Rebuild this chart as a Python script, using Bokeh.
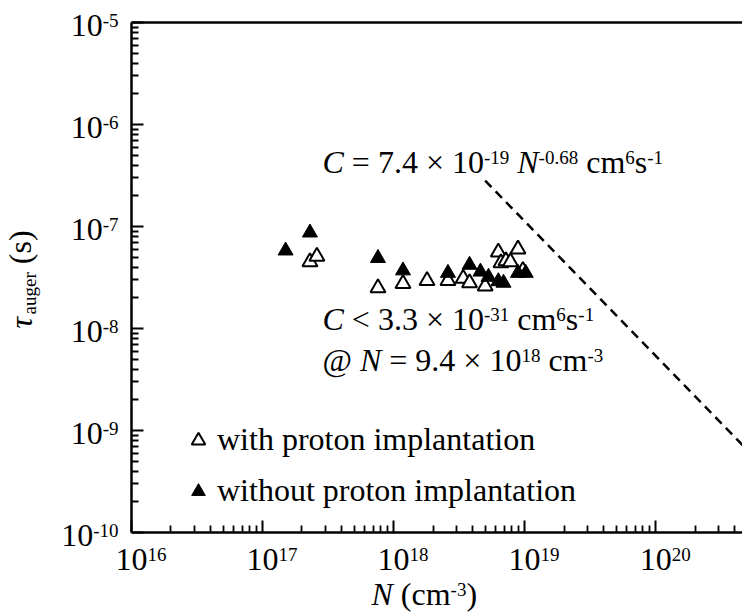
import math
from bokeh.plotting import figure
from bokeh.models import Range1d, LogAxis, FixedTicker, LabelSet, ColumnDataSource
from bokeh.core.properties import value
from bokeh.embed import file_html
from bokeh.resources import INLINE

# ---------------- data ----------------
n_with = [2.3e17, 2.6e17, 7.6e17, 1.18e18, 1.8e18, 2.6e18, 3.4e18, 3.8e18,
          5.0e18, 6.3e18, 6.6e18, 7.2e18, 7.8e18, 8.9e18, 9.7e18]
tau_with = [4.5e-8, 5.1e-8, 2.5e-8, 2.75e-8, 2.95e-8, 2.95e-8, 3.1e-8, 2.8e-8,
            2.6e-8, 5.6e-8, 4.4e-8, 4.6e-8, 4.5e-8, 6.0e-8, 3.7e-8]

n_without = [1.5e17, 2.3e17, 7.6e17, 1.18e18, 2.6e18, 3.8e18, 4.6e18, 5.3e18,
             6.3e18, 6.9e18, 8.9e18, 1.02e19]
tau_without = [5.8e-8, 8.7e-8, 4.9e-8, 3.7e-8, 3.5e-8, 4.2e-8, 3.6e-8, 3.2e-8,
               2.9e-8, 2.8e-8, 3.5e-8, 3.5e-8]

# dashed model line C = 7.4e-19 N^-0.68 (end points)
fit_n = [5.0e18, 4.6e20]
fit_tau = [2.81e-7, 7.2e-10]

x_ticks = [1e16, 1e17, 1e18, 1e19, 1e20]
x_tick_sup = ["16", "17", "18", "19", "20"]
y_ticks = [1e-10, 1e-9, 1e-8, 1e-7, 1e-6, 1e-5]
y_tick_sup = ["-10", "-9", "-8", "-7", "-6", "-5"]

x_start, x_end = 1e16, 4.6e20
y_start, y_end = 1e-10, 1e-5

FONT = "Liberation Serif"
BASE = 32
SUP = 19
RAISE = 9

# ---------------- layout ----------------
W_, H_ = 742, 615
PAD_L, PAD_T, PAD_B = 131, 22, 83   # room for labels around the axes (px)

lx0, lx1 = math.log10(x_start), math.log10(x_end)
ly0, ly1 = math.log10(y_start), math.log10(y_end)
dx = (lx1 - lx0) / (W_ - PAD_L)
dy = (ly1 - ly0) / (H_ - PAD_T - PAD_B)
xr = Range1d(10 ** (lx0 - PAD_L * dx), x_end)
yr = Range1d(10 ** (ly0 - PAD_B * dy), 10 ** (ly1 + PAD_T * dy))

p = figure(width=W_, height=H_, x_axis_type="log", y_axis_type="log",
           x_range=xr, y_range=yr, x_axis_location=None, y_axis_location=None,
           output_backend="svg", toolbar_location=None,
           min_border_left=0, min_border_top=0, min_border_bottom=0, min_border_right=0)
p.outline_line_color = None
p.grid.visible = False
p.background_fill_color = "white"
p.border_fill_color = "white"

def minors(ticks):
    out = []
    for t in ticks:
        for k in range(2, 10):
            out.append(t * k)
    return out

x_minor = minors([1e16, 1e17, 1e18, 1e19, 1e20])
y_minor = minors([1e-10, 1e-9, 1e-8, 1e-7, 1e-6])

def make_axis(maj, mnr, loc, bounds, tick_in=12, minor_in=7):
    ax = LogAxis(fixed_location=loc, bounds=bounds)
    ax.ticker = FixedTicker(ticks=maj, minor_ticks=mnr)
    ax.axis_line_width = 2.5
    ax.axis_line_color = "black"
    ax.major_tick_in = tick_in
    ax.major_tick_out = 0
    ax.minor_tick_in = minor_in
    ax.minor_tick_out = 0
    ax.major_tick_line_width = 2
    ax.minor_tick_line_width = 1.8
    ax.major_label_text_font_size = "2px"
    ax.major_label_text_alpha = 0
    ax.major_label_standoff = 0
    return ax

p.add_layout(make_axis(x_ticks, x_minor, y_start, (x_start, x_end)), "below")
p.add_layout(make_axis(y_ticks, y_minor, x_start, (y_start, y_end)), "left")
p.add_layout(make_axis(x_ticks, x_minor, y_end, (x_start, x_end), 0, 0), "above")

# ---------------- glyphs ----------------
p.line(fit_n, fit_tau, line_color="black", line_width=2.5, line_dash="9 6")
p.scatter(n_with, tau_with, marker="triangle", size=15, fill_color="white", line_color="black",
          line_width=2.0, legend_label="with proton implantation")
p.scatter(n_without, tau_without, marker="triangle", size=15, fill_color="black", line_color="black",
          line_width=1.0, legend_label="without proton implantation")

lg = p.legend[0]
lg.location = (181, 106)
lg.border_line_color = None
lg.background_fill_alpha = 0
lg.padding = 0
lg.margin = 0
lg.spacing = 14
lg.glyph_width = 34
lg.glyph_height = 34
lg.label_standoff = 2
lg.label_text_font = FONT
lg.label_text_font_size = f"{BASE}px"
lg.label_text_color = "black"

# ---------------- rich text (pieces laid out with Times metrics) ----------------
WID = {' ': 250, '(': 333, ')': 333, '-': 333, '.': 250, '<': 564, '=': 564, '@': 921, '×': 564,
       'a': 444, 'c': 444, 'e': 444, 'g': 500, 'h': 500, 'i': 278, 'l': 278, 'm': 778, 'n': 500,
       'o': 500, 'p': 500, 'r': 333, 's': 389, 't': 278, 'u': 500, 'w': 722, 'C': 667, 'N': 667,
       'τ': 440}
for d in "0123456789":
    WID[d] = 500

def tw(s, size):
    return sum(WID.get(ch, 500) for ch in s) * size / 1000.0

pieces = dict(x=[], y=[], text=[], style=[], size=[], angle=[])

def rich(parts, X, Y, angle=0.0, drop=5):
    """X, Y: page position (from top-left) of the baseline start."""
    adv = 0.0
    for text, kind in parts:
        fs = SUP if kind in ("sup", "sub") else BASE
        style = "italic" if kind == "i" else "normal"
        off = RAISE if kind == "sup" else (-drop if kind == "sub" else 0)
        lead = len(text) - len(text.lstrip(" "))
        core = text.strip(" ")
        a = adv + tw(" " * lead, fs)
        if core:
            if angle == 0:
                x, y = X + a, H_ - Y + off
            else:
                x, y = X - off, H_ - (Y - a)
            pieces["x"].append(x)
            pieces["y"].append(y)
            pieces["text"].append(core)
            pieces["style"].append(style)
            pieces["size"].append(f"{fs}px")
            pieces["angle"].append(angle)
        adv += tw(text, fs)

rich([("C", "i"), (" = 7.4 × 10", "r"), ("-19", "sup"), (" ", "r"), ("N", "i"), ("-0.68", "sup"),
      (" cm", "r"), ("6", "sup"), ("s", "r"), ("-1", "sup")], 322, 172)
rich([("C", "i"), (" < 3.3 × 10", "r"), ("-31", "sup"), (" cm", "r"), ("6", "sup"), ("s", "r"),
      ("-1", "sup")], 322, 329)
rich([("@ ", "r"), ("N", "i"), (" = 9.4 × 10", "r"), ("18", "sup"), (" cm", "r"), ("-3", "sup")],
     322, 370)
rich([("N", "i"), (" (cm", "r"), ("-3", "sup"), (")", "r")], 371, 604)
rich([("τ", "i"), ("auger", "sub"), (" (s)", "r")], 31, 328, angle=math.pi / 2, drop=5)

p.add_layout(LabelSet(x="x", y="y", text="text", source=ColumnDataSource(pieces),
                      x_units="screen", y_units="screen", angle="angle",
                      text_font=value(FONT), text_font_style="style", text_font_size="size",
                      text_color="black", text_align="left", text_baseline="alphabetic"))

# ---------------- tick labels (positioned through the scales) ----------------
xsrc = ColumnDataSource(dict(x=x_ticks, y=[y_start] * len(x_ticks), base=["10"] * len(x_ticks),
                             sup=x_tick_sup))
p.add_layout(LabelSet(x="x", y="y", text="base", source=xsrc, x_offset=0, y_offset=-37,
                      text_align="center", text_baseline="alphabetic", text_font=value(FONT),
                      text_font_size=f"{BASE}px", text_color="black"))
p.add_layout(LabelSet(x="x", y="y", text="sup", source=xsrc, x_offset=tw("10", BASE) / 2,
                      y_offset=-37 + RAISE, text_align="left", text_baseline="alphabetic",
                      text_font=value(FONT), text_font_size=f"{SUP}px", text_color="black"))

gap = 13
ysrc = ColumnDataSource(dict(x=[x_start] * len(y_ticks), y=y_ticks, base=["10"] * len(y_ticks),
                             sup=y_tick_sup,
                             bxo=[-gap - tw(s, SUP) for s in y_tick_sup]))
p.add_layout(LabelSet(x="x", y="y", text="base", source=ysrc, x_offset="bxo", y_offset=-13,
                      text_align="right", text_baseline="alphabetic", text_font=value(FONT),
                      text_font_size=f"{BASE}px", text_color="black"))
p.add_layout(LabelSet(x="x", y="y", text="sup", source=ysrc, x_offset=-gap, y_offset=-13 + RAISE,
                      text_align="right", text_baseline="alphabetic", text_font=value(FONT),
                      text_font_size=f"{SUP}px", text_color="black"))

open("out.html", "w").write(file_html(p, INLINE))
